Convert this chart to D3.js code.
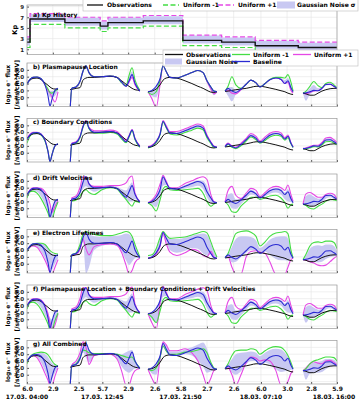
<!DOCTYPE html>
<html>
<head>
<meta charset="utf-8">
<script src="https://cdn.jsdelivr.net/npm/d3@7"></script>
<style>
  body { margin: 0; background: #fff; }
  svg { font-family: 'DejaVu Sans', sans-serif; font-weight: bold; }
</style>
</head>
<body>
<div id="chart"></div>
<script>
// !--------------------------------------------------------------data content below

// x axis: hours after 17.03. 04:00
const lshellTicks = [0, 3, 6, 8.75, 11.75, 14.83, 17.83, 20.9, 24, 27.17, 30.2, 33, 36];
const lshellLabels = ['6.0', '2.9', '2.5', '5.7', '2.9', '2.6', '5.8', '2.7', '2.6', '6.0', '3.0', '2.8', '5.9'];
const dateTicks = [0, 8.75, 17.83, 27.17, 36];
const dateLabels = ['17.03. 04:00', '17.03. 12:45', '17.03. 21:50', '18.03. 07:10', '18.03. 16:00'];

// a) Kp history (step values)
const kpTime = [0, 0.35, 4.4, 8.5, 9.4, 13.5, 18.1, 22.6, 26.5, 31.5, 36];
const kpObs = [2.33, 6.67, 6.0, 5.33, 6.0, 6.33, 2.67, 2.33, 1.67, 1.33, 1.33];
const kpMinus = [1.33, 5.67, 5.0, 4.33, 5.0, 5.33, 1.67, 1.33, 0.67, 0.33, 0.33];
const kpPlus = [3.33, 7.67, 7.0, 6.33, 7.0, 7.33, 3.67, 3.33, 2.67, 2.33, 2.33];
const kpNoiseLo = [1.7, 6.1, 5.4, 4.7, 5.4, 5.7, 2.1, 1.7, 1.1, 0.7, 0.7];
const kpNoiseHi = [3.2, 7.6, 6.9, 6.2, 6.9, 7.2, 3.6, 3.2, 2.6, 2.2, 2.2];

// satellite passes (hours)
const passHours = [
  [0, 0.35, 0.7, 1.16, 1.63, 2.09, 2.44, 2.67, 2.9, 3.25, 3.6],
  [5.0, 5.2, 5.7, 6.15, 6.5, 6.85, 7.2, 7.8, 8.7, 9.65, 10.45, 11.0, 11.5, 11.85, 12.2, 12.55, 13.1],
  [14.05, 14.5, 15.0, 15.45, 15.8, 16.15, 16.6, 17.4, 18.35, 19.15, 19.85, 20.45, 20.9, 21.35, 21.7, 22.05],
  [23.0, 23.35, 23.8, 24.25, 24.85, 25.45, 26.0, 26.6, 27.05, 27.65, 28.2, 28.9, 29.5, 29.95, 30.3, 30.65, 30.9],
  [32.05, 32.4, 32.85, 33.3, 33.8, 34.25, 34.7, 35.2, 35.65, 36.0]
];

// log10 flux, same in every panel
const obsFlux = [
  [6.1, 6.5, 6.75, 6.8, 6.6, 6.1, 5.75, 5.5, 5.3, 5.2, 5.2],
  [5.1, 5.15, 5.3, 5.4, 6.5, 6.8, 6.9, 6.9, 7.0, 7.05, 6.9, 6.4, 5.9, 5.6, 5.3, 5.1, 5.0],
  [4.8, 4.9, 5.2, 5.8, 6.5, 6.8, 6.9, 6.8, 6.4, 6.0, 5.6, 5.3, 5.0, 4.75, 4.7, 4.8],
  [4.85, 4.9, 5.0, 5.1, 5.2, 5.3, 5.45, 5.6, 5.6, 5.5, 5.35, 5.15, 4.95, 4.8, 4.6, 4.45, 4.4],
  [4.6, 4.5, 4.3, 4.3, 4.6, 4.9, 5.1, 5.25, 5.3, 5.3]
];
const baseFlux = [
  [5.9, 6.6, 6.9, 6.95, 6.7, 5.8, 4.2, 2.7, 3.7, 5.0, 5.3],
  [2.0, 5.3, 5.5, 6.3, 7.8, 8.6, 7.6, 7.0, 7.0, 7.1, 6.9, 6.2, 5.6, 6.4, 7.3, 6.0, 4.9],
  [4.8, 5.0, 5.6, 6.7, 8.6, 7.8, 6.9, 6.8, 7.2, 7.6, 7.9, 7.6, 6.4, 5.5, 4.9, 4.8],
  [4.9, 5.3, 4.9, 4.7, 5.2, 5.9, 6.5, 6.1, 5.5, 6.0, 6.55, 6.8, 6.6, 6.0, 6.4, 5.4, 4.8],
  [4.6, 4.65, 4.8, 5.0, 4.95, 5.3, 5.85, 5.9, 5.6, 5.3]
];

// b) plasmapause location
const ppMinus = [
  [5.9, 6.6, 6.9, 6.95, 6.7, 5.9, 5.2, 4.7, 4.6, 4.9, 5.2],
  [2.0, 5.3, 5.5, 6.3, 7.8, 8.6, 7.6, 7.0, 7.0, 7.1, 6.9, 6.1, 5.7, 7.2, 8.3, 6.5, 5.0],
  [4.8, 4.4, 4.8, 6.5, 8.6, 7.8, 6.9, 6.8, 7.2, 7.6, 7.9, 7.6, 6.4, 5.5, 4.9, 4.8],
  [4.9, 5.6, 7.0, 5.8, 5.3, 5.9, 6.5, 6.1, 5.5, 6.0, 6.6, 6.9, 6.9, 6.8, 7.3, 6.2, 4.9],
  [4.6, 4.9, 5.6, 6.3, 5.7, 5.4, 6.0, 6.2, 5.8, 5.4]
];
const ppPlus = [
  [5.9, 6.6, 6.9, 6.95, 6.7, 5.8, 5.0, 4.6, 4.0, 3.3, 4.8],
  [2.0, 5.3, 5.5, 6.3, 7.8, 8.6, 7.6, 7.0, 7.0, 7.1, 6.9, 6.2, 5.6, 6.2, 6.9, 5.8, 4.9],
  [4.8, 3.8, 2.5, 5.8, 8.6, 7.8, 6.9, 6.8, 7.2, 7.6, 7.9, 7.6, 6.3, 5.2, 4.5, 4.8],
  [4.9, 5.0, 4.6, 4.5, 5.1, 5.9, 6.5, 6.1, 5.5, 6.0, 6.55, 6.8, 6.6, 6.0, 6.2, 5.0, 4.6],
  [4.6, 4.5, 4.7, 4.9, 5.0, 5.3, 5.9, 5.9, 5.6, 5.3]
];
const ppLo = [
  [5.9, 6.6, 6.9, 6.95, 6.7, 5.8, 4.5, 4.0, 4.0, 4.2, 5.0],
  [2.0, 5.3, 5.5, 6.3, 7.8, 8.5, 7.6, 7.0, 7.0, 7.0, 6.8, 6.0, 5.5, 6.0, 6.8, 5.7, 4.8],
  [4.8, 4.2, 4.0, 6.0, 8.5, 7.8, 6.9, 6.8, 7.2, 7.6, 7.9, 7.6, 6.3, 5.0, 4.3, 4.7],
  [4.9, 4.2, 3.4, 4.4, 5.0, 5.9, 6.5, 6.1, 5.5, 6.0, 6.5, 6.8, 6.5, 6.0, 6.0, 5.0, 4.6],
  [4.6, 3.5, 4.4, 4.8, 4.9, 5.2, 5.7, 5.8, 5.5, 5.2]
];
const ppHi = [
  [5.9, 6.6, 6.9, 6.95, 6.7, 5.9, 5.2, 4.9, 4.9, 5.0, 5.3],
  [2.0, 5.3, 5.5, 6.3, 7.8, 8.6, 7.6, 7.0, 7.0, 7.1, 6.9, 6.2, 5.8, 7.0, 7.8, 6.3, 5.0],
  [4.8, 5.0, 5.6, 6.7, 8.6, 7.8, 6.9, 6.8, 7.2, 7.6, 7.9, 7.6, 6.4, 5.5, 4.9, 4.8],
  [4.9, 5.4, 5.5, 5.0, 5.3, 5.9, 6.5, 6.1, 5.5, 6.0, 6.6, 6.9, 6.8, 6.5, 6.8, 5.8, 4.8],
  [4.6, 4.8, 5.3, 5.8, 5.3, 5.4, 6.0, 6.0, 5.7, 5.3]
];

// c) boundary conditions
const bcMinus = [
  [5.4, 6.4, 6.8, 6.9, 6.6, 5.7, 4.2, 2.7, 3.7, 5.0, 5.3],
  [2.0, 5.2, 5.4, 6.2, 7.7, 8.6, 7.5, 6.9, 6.85, 6.95, 6.75, 6.0, 5.45, 6.3, 7.2, 5.9, 4.8],
  [4.7, 4.9, 5.5, 6.6, 8.5, 7.7, 6.75, 6.6, 6.95, 7.3, 7.6, 7.35, 6.2, 5.35, 4.8, 4.75],
  [4.85, 5.2, 4.8, 4.6, 5.0, 5.7, 6.3, 5.9, 5.4, 5.8, 6.3, 6.55, 6.4, 5.85, 6.2, 5.3, 4.75],
  [4.55, 4.6, 4.7, 4.9, 4.85, 5.15, 5.6, 5.65, 5.4, 5.15]
];
const bcPlus = [
  [6.1, 6.7, 7.0, 7.0, 6.75, 5.9, 4.2, 2.7, 3.7, 5.0, 5.3],
  [2.0, 5.4, 5.6, 6.4, 7.9, 8.7, 7.7, 7.2, 7.2, 7.3, 7.1, 6.4, 5.8, 6.5, 7.4, 6.1, 5.0],
  [4.9, 5.1, 5.7, 6.8, 8.7, 8.0, 7.1, 7.1, 7.5, 7.9, 8.2, 7.9, 6.6, 5.6, 5.0, 4.85],
  [4.95, 5.4, 5.0, 4.8, 5.4, 6.1, 6.8, 6.4, 5.7, 6.3, 6.85, 7.1, 6.9, 6.2, 6.6, 5.5, 4.85],
  [4.65, 4.7, 4.9, 5.1, 5.1, 5.5, 6.15, 6.25, 5.9, 5.5]
];
const bcLo = [
  [5.5, 6.5, 6.85, 6.9, 6.65, 5.75, 4.2, 2.7, 3.7, 5.0, 5.3],
  [2.0, 5.25, 5.45, 6.25, 7.75, 8.6, 7.55, 6.95, 6.95, 7.0, 6.8, 6.1, 5.5, 6.35, 7.25, 5.95, 4.85],
  [4.75, 4.95, 5.55, 6.65, 8.55, 7.75, 6.8, 6.7, 7.05, 7.4, 7.7, 7.45, 6.3, 5.4, 4.85, 4.8],
  [4.9, 5.25, 4.85, 4.65, 5.1, 5.8, 6.4, 6.0, 5.45, 5.9, 6.4, 6.65, 6.5, 5.9, 6.3, 5.35, 4.8],
  [4.6, 4.6, 4.75, 4.95, 4.9, 5.2, 5.7, 5.75, 5.5, 5.2]
];
const bcHi = [
  [6.0, 6.7, 6.95, 7.0, 6.75, 5.85, 4.2, 2.7, 3.7, 5.0, 5.3],
  [2.0, 5.35, 5.55, 6.35, 7.85, 8.65, 7.65, 7.1, 7.1, 7.2, 7.0, 6.3, 5.7, 6.45, 7.35, 6.05, 4.95],
  [4.85, 5.05, 5.65, 6.75, 8.65, 7.9, 7.0, 7.0, 7.4, 7.8, 8.1, 7.8, 6.5, 5.55, 4.95, 4.85],
  [4.9, 5.35, 4.95, 4.75, 5.3, 6.0, 6.7, 6.3, 5.6, 6.2, 6.75, 7.0, 6.8, 6.1, 6.5, 5.45, 4.85],
  [4.6, 4.7, 4.85, 5.05, 5.05, 5.4, 6.0, 6.1, 5.8, 5.4]
];

// d) drift velocities
const dvMinus = [
  [5.5, 6.4, 6.5, 6.2, 5.4, 4.3, 3.3, 2.5, 2.5, 3.8, 4.9],
  [2.0, 5.0, 5.2, 5.8, 6.4, 6.7, 6.3, 6.0, 6.7, 7.0, 6.8, 6.0, 5.3, 4.7, 4.3, 5.0, 4.8],
  [4.8, 4.4, 3.6, 5.2, 6.8, 7.2, 6.7, 6.6, 6.7, 6.8, 6.9, 6.2, 5.0, 4.3, 4.6, 4.8],
  [4.9, 4.5, 3.5, 3.4, 4.3, 5.0, 5.6, 5.6, 5.3, 5.5, 5.8, 5.9, 5.5, 4.8, 4.0, 4.5, 4.6],
  [4.6, 4.4, 4.0, 3.9, 4.3, 4.6, 5.0, 5.3, 5.2, 5.1]
];
const dvPlus = [
  [6.0, 6.7, 7.0, 7.0, 6.9, 6.4, 5.6, 4.6, 3.4, 4.3, 5.1],
  [2.0, 5.5, 5.8, 7.0, 8.6, 8.6, 7.5, 7.2, 7.2, 7.3, 7.3, 7.4, 7.7, 8.4, 8.7, 6.2, 5.0],
  [4.8, 5.2, 6.0, 7.5, 8.8, 8.0, 7.0, 7.0, 7.6, 8.0, 8.4, 8.6, 8.2, 6.0, 5.0, 4.8],
  [4.9, 6.6, 7.2, 5.9, 5.4, 6.2, 6.9, 6.6, 5.7, 6.3, 6.9, 7.2, 7.0, 6.6, 7.4, 6.0, 5.0],
  [4.6, 6.1, 6.3, 6.0, 5.6, 5.6, 6.0, 6.2, 6.0, 5.4]
];
const dvLo = [
  [5.6, 6.45, 6.6, 6.4, 5.7, 4.6, 3.5, 2.5, 2.5, 4.0, 5.0],
  [2.0, 5.1, 5.3, 6.0, 6.8, 7.2, 6.8, 6.4, 6.8, 7.0, 6.85, 6.1, 5.4, 5.0, 5.0, 5.3, 4.85],
  [4.8, 4.6, 4.2, 5.6, 7.3, 7.4, 6.8, 6.7, 6.9, 7.1, 7.3, 6.8, 5.6, 4.8, 4.7, 4.8],
  [4.9, 4.8, 4.0, 3.9, 4.6, 5.4, 6.0, 5.8, 5.4, 5.7, 6.1, 6.3, 6.0, 5.3, 5.0, 4.9, 4.7],
  [4.6, 4.5, 4.3, 4.3, 4.6, 4.9, 5.4, 5.6, 5.4, 5.2]
];
const dvHi = [
  [5.95, 6.65, 6.95, 6.95, 6.8, 6.1, 5.2, 4.0, 3.8, 5.0, 5.3],
  [2.0, 5.4, 5.7, 6.6, 8.2, 8.6, 7.6, 7.1, 7.1, 7.2, 7.1, 6.8, 6.6, 7.2, 7.8, 6.1, 4.95],
  [4.8, 5.1, 5.8, 7.1, 8.7, 7.9, 6.95, 6.9, 7.4, 7.8, 8.1, 8.0, 7.2, 5.7, 4.95, 4.8],
  [4.9, 6.0, 6.2, 5.3, 5.3, 6.0, 6.7, 6.3, 5.6, 6.2, 6.7, 7.0, 6.8, 6.3, 6.8, 5.7, 4.9],
  [4.6, 5.8, 6.0, 5.7, 5.4, 5.5, 5.95, 6.0, 5.8, 5.35]
];

// e) electron lifetimes
const ltMinus = [
  [5.8, 6.5, 6.9, 7.0, 7.0, 6.8, 6.3, 5.9, 5.7, 5.5, 5.4],
  [2.0, 5.3, 5.6, 6.8, 8.3, 8.7, 8.5, 8.3, 8.1, 8.1, 8.3, 8.5, 8.7, 8.6, 8.0, 6.8, 5.0],
  [5.2, 5.3, 6.2, 7.8, 8.7, 8.2, 7.7, 7.8, 7.9, 8.2, 8.5, 8.7, 8.5, 7.2, 6.0, 5.0],
  [4.9, 5.5, 7.0, 8.4, 8.7, 8.8, 8.6, 8.0, 6.6, 7.2, 8.0, 8.5, 8.6, 8.7, 8.4, 6.0, 4.9],
  [4.6, 5.4, 6.6, 7.1, 7.2, 7.1, 7.3, 7.3, 7.1, 6.2]
];
const ltPlus = [
  [5.8, 6.4, 6.6, 6.4, 5.6, 4.5, 3.5, 2.7, 2.5, 3.5, 4.6],
  [2.0, 5.2, 5.4, 6.0, 7.6, 6.2, 5.3, 6.5, 6.8, 6.9, 6.7, 5.6, 3.8, 2.5, 3.0, 4.2, 4.8],
  [4.8, 4.9, 5.4, 6.5, 8.5, 7.0, 5.7, 5.2, 5.6, 6.1, 5.9, 5.2, 5.0, 5.8, 5.0, 4.8],
  [4.9, 5.0, 3.5, 2.5, 2.5, 5.0, 5.8, 5.9, 5.7, 5.5, 4.3, 2.5, 2.5, 2.5, 3.5, 4.6, 4.8],
  [4.6, 4.5, 4.3, 4.1, 3.8, 3.7, 3.8, 4.3, 4.8, 5.1]
];
const ltLo = [
  [5.8, 6.4, 6.6, 6.5, 5.8, 4.8, 3.8, 3.2, 3.2, 4.0, 4.8],
  [2.0, 5.25, 5.5, 6.1, 7.2, 2.6, 3.5, 6.0, 6.6, 6.8, 6.6, 5.8, 4.5, 3.8, 4.3, 4.8, 4.85],
  [4.8, 4.9, 5.5, 6.6, 8.0, 7.2, 6.0, 5.6, 5.9, 6.3, 6.2, 5.5, 5.2, 5.4, 4.9, 4.8],
  [4.9, 5.0, 4.2, 4.3, 5.0, 5.6, 6.0, 6.0, 5.6, 5.8, 5.3, 4.7, 4.5, 4.5, 4.4, 4.8, 4.8],
  [4.6, 4.5, 4.4, 4.3, 4.2, 4.3, 4.7, 5.0, 5.1, 5.2]
];
const ltHi = [
  [5.8, 6.5, 6.9, 7.0, 7.0, 6.8, 6.3, 5.8, 5.5, 5.4, 5.3],
  [2.0, 5.3, 5.6, 6.7, 8.2, 8.6, 8.3, 8.0, 7.9, 8.0, 8.1, 8.2, 8.4, 8.3, 7.8, 6.6, 5.0],
  [4.8, 5.2, 6.0, 7.6, 8.6, 8.1, 7.6, 7.6, 7.8, 8.1, 8.3, 8.4, 8.2, 7.0, 5.8, 4.9],
  [4.9, 5.4, 6.5, 7.6, 8.0, 8.0, 7.9, 7.4, 6.3, 6.8, 7.5, 7.9, 8.0, 8.0, 7.7, 5.8, 4.85],
  [4.6, 5.2, 6.2, 6.6, 6.7, 6.6, 6.8, 6.8, 6.6, 5.8]
];

// f) plasmapause + boundary + drift
const ppbcdvMinus = [
  [5.5, 6.4, 6.5, 6.2, 5.4, 4.3, 3.3, 2.5, 2.5, 3.8, 4.9],
  [2.0, 5.0, 5.2, 5.8, 6.4, 6.7, 6.3, 6.0, 6.7, 7.0, 6.8, 6.0, 5.3, 4.7, 4.3, 5.0, 4.8],
  [4.8, 4.3, 3.5, 5.2, 6.8, 7.2, 6.7, 6.6, 6.7, 6.8, 6.9, 6.2, 5.0, 4.3, 4.6, 4.8],
  [4.9, 4.5, 3.5, 3.4, 4.3, 5.0, 5.6, 5.6, 5.3, 5.5, 5.8, 5.9, 5.5, 4.8, 4.0, 4.5, 4.6],
  [4.6, 4.4, 4.0, 3.9, 4.3, 4.6, 5.0, 5.3, 5.2, 5.1]
];
const ppbcdvPlus = [
  [6.0, 6.7, 7.0, 7.0, 6.8, 6.0, 4.8, 3.5, 2.5, 3.2, 4.8],
  [2.0, 5.5, 5.8, 7.0, 8.6, 8.6, 7.5, 7.2, 7.2, 7.3, 7.3, 7.4, 7.7, 8.4, 8.7, 6.2, 5.0],
  [4.8, 3.5, 2.5, 6.4, 8.8, 8.0, 7.0, 7.0, 7.6, 8.0, 8.4, 8.6, 8.2, 6.0, 5.0, 4.8],
  [4.9, 6.6, 7.2, 5.9, 5.4, 6.2, 6.9, 6.6, 5.7, 6.3, 6.9, 7.2, 7.0, 6.6, 7.4, 6.0, 5.0],
  [4.6, 6.1, 6.3, 6.0, 5.6, 5.6, 6.0, 6.2, 6.0, 5.4]
];
const ppbcdvLo = [
  [5.6, 6.45, 6.6, 6.4, 5.7, 4.6, 3.5, 2.5, 2.5, 3.5, 4.9],
  [2.0, 5.1, 5.3, 6.0, 6.8, 7.2, 6.8, 6.4, 6.8, 7.0, 6.85, 6.1, 5.4, 5.0, 5.0, 5.3, 4.85],
  [4.8, 4.0, 3.5, 5.5, 7.3, 7.4, 6.8, 6.7, 6.9, 7.1, 7.3, 6.8, 5.6, 4.8, 4.7, 4.8],
  [4.9, 4.8, 4.0, 3.9, 4.6, 5.4, 6.0, 5.8, 5.4, 5.7, 6.1, 6.3, 6.0, 5.3, 5.0, 4.9, 4.7],
  [4.6, 3.5, 4.2, 4.3, 4.6, 4.9, 5.4, 5.6, 5.4, 5.2]
];
const ppbcdvHi = [
  [5.95, 6.65, 6.95, 6.95, 6.75, 5.9, 5.0, 4.2, 4.0, 4.8, 5.3],
  [2.0, 5.4, 5.7, 6.6, 8.2, 8.6, 7.6, 7.1, 7.1, 7.2, 7.1, 6.8, 6.6, 7.2, 7.8, 6.1, 4.95],
  [4.8, 5.0, 5.6, 7.0, 8.7, 7.9, 6.95, 6.9, 7.4, 7.8, 8.1, 8.0, 7.2, 5.7, 4.95, 4.8],
  [4.9, 6.0, 6.2, 5.3, 5.3, 6.0, 6.7, 6.3, 5.6, 6.2, 6.7, 7.0, 6.8, 6.3, 6.8, 5.7, 4.9],
  [4.6, 5.8, 6.0, 5.7, 5.4, 5.5, 5.95, 6.0, 5.8, 5.35]
];

// g) all combined
const allMinus = [
  [5.6, 6.6, 7.0, 7.2, 7.3, 7.2, 6.9, 6.5, 6.0, 5.5, 5.3],
  [2.0, 5.3, 5.6, 6.5, 7.6, 7.5, 7.2, 7.1, 7.1, 7.1, 7.0, 6.8, 6.6, 6.5, 6.6, 5.9, 5.0],
  [4.8, 4.6, 5.0, 6.5, 8.2, 7.5, 7.0, 7.0, 7.3, 7.4, 7.6, 7.8, 7.2, 5.8, 5.0, 4.8],
  [4.9, 5.6, 6.8, 7.5, 7.6, 7.6, 7.8, 7.6, 7.0, 7.5, 7.9, 8.1, 8.0, 7.5, 6.8, 5.8, 4.9],
  [4.6, 4.9, 5.6, 6.0, 6.2, 6.4, 6.6, 6.6, 6.5, 6.0]
];
const allPlus = [
  [5.9, 6.6, 6.8, 6.5, 5.5, 4.2, 3.2, 2.5, 2.5, 3.8, 5.0],
  [2.0, 5.4, 6.0, 7.2, 8.8, 8.0, 5.5, 6.8, 7.0, 7.0, 6.3, 4.5, 2.5, 2.5, 3.8, 4.6, 4.9],
  [4.8, 3.5, 2.5, 6.4, 8.8, 8.4, 7.5, 7.5, 7.8, 7.2, 6.0, 4.0, 2.5, 3.5, 4.6, 4.8],
  [4.9, 5.0, 4.0, 2.5, 4.0, 5.8, 6.6, 6.4, 6.0, 6.2, 6.0, 4.6, 2.5, 2.5, 3.0, 4.2, 4.6],
  [4.6, 5.0, 5.6, 5.9, 5.7, 5.6, 6.0, 6.1, 5.8, 5.4]
];
const allLo = [
  [5.8, 6.5, 6.8, 6.6, 5.8, 4.6, 3.6, 3.2, 3.4, 4.3, 5.0],
  [2.0, 5.2, 5.5, 6.2, 7.3, 6.5, 5.8, 6.7, 6.9, 6.9, 6.3, 5.2, 4.5, 4.3, 4.6, 4.9, 4.9],
  [4.8, 4.2, 4.0, 6.0, 8.0, 7.4, 6.9, 6.8, 7.0, 6.8, 6.0, 5.2, 4.3, 4.5, 4.7, 4.8],
  [4.9, 4.9, 4.3, 4.0, 4.5, 5.5, 6.0, 6.0, 5.6, 5.8, 5.5, 4.8, 4.4, 4.5, 4.6, 4.7, 4.8],
  [4.6, 3.3, 4.2, 4.3, 4.3, 4.4, 4.8, 5.2, 5.3, 5.2]
];
const allHi = [
  [5.9, 6.6, 6.95, 7.1, 7.2, 7.0, 6.6, 6.1, 5.7, 5.4, 5.3],
  [2.0, 5.4, 5.9, 7.0, 8.5, 8.4, 7.5, 7.1, 7.1, 7.2, 7.1, 7.0, 7.3, 7.5, 7.6, 6.2, 5.0],
  [4.8, 5.0, 5.6, 7.0, 8.7, 8.2, 7.4, 7.4, 7.7, 8.0, 8.4, 8.7, 7.8, 6.0, 5.0, 4.8],
  [4.9, 5.5, 6.3, 7.0, 7.2, 7.3, 7.4, 7.2, 6.7, 7.2, 7.6, 7.8, 7.7, 7.2, 6.6, 5.6, 4.9],
  [4.6, 5.0, 5.5, 5.8, 5.9, 6.0, 6.3, 6.3, 6.2, 5.6]
];

const panelTitles = [
  'b) Plasmapause Location',
  'c) Boundary Conditions',
  'd) Drift Velocities',
  'e) Electron Lifetimes',
  'f) Plasmapause Location + Boundary Conditions + Drift Velocities',
  'g) All Combined'
];

// !----------------------------------------------------------graph content below

const colors = {
  obs: '#111111',
  minus: '#44dd44',
  plus: '#e548e5',
  base: '#2a2ad2',
  noise: '#c8c8f2',
  grid: '#e4e4e4',
  frame: '#9a9a9a'
};

const panels = [
  { minus: ppMinus, plus: ppPlus, lo: ppLo, hi: ppHi },
  { minus: bcMinus, plus: bcPlus, lo: bcLo, hi: bcHi },
  { minus: dvMinus, plus: dvPlus, lo: dvLo, hi: dvHi },
  { minus: ltMinus, plus: ltPlus, lo: ltLo, hi: ltHi },
  { minus: ppbcdvMinus, plus: ppbcdvPlus, lo: ppbcdvLo, hi: ppbcdvHi },
  { minus: allMinus, plus: allPlus, lo: allLo, hi: allHi }
].map((p, i) => ({ ...p, title: panelTitles[i] }));

const dims = { width: 359, height: 400, left: 27, right: 337 };

const svg = d3
  .select('#chart')
  .append('svg')
  .attr('width', dims.width)
  .attr('height', dims.height);

const defs = svg.append('defs');

const x = d3.scaleLinear().domain([0, 36]).range([dims.left, dims.right]);

const zip = (t, v) => t.map((tt, i) => [tt, v[i]]);

// grid + frame helper
const drawFrame = (g, y, top, h, yTicks, gridY) => {
  g.append('g')
    .selectAll('line')
    .data(lshellTicks)
    .join('line')
    .attr('x1', (d) => x(d))
    .attr('x2', (d) => x(d))
    .attr('y1', top)
    .attr('y2', top + h)
    .attr('stroke', colors.grid)
    .attr('stroke-width', 0.6);

  g.append('g')
    .selectAll('line')
    .data(gridY)
    .join('line')
    .attr('x1', dims.left)
    .attr('x2', dims.right)
    .attr('y1', (d) => y(d))
    .attr('y2', (d) => y(d))
    .attr('stroke', colors.grid)
    .attr('stroke-width', 0.6);
};

const drawAxes = (g, y, top, h, yTicks, showLabels) => {
  const yAxis = g
    .append('g')
    .attr('transform', `translate(${dims.left},0)`)
    .call(d3.axisLeft(y).tickValues(yTicks).tickSizeInner(-2).tickSizeOuter(0).tickPadding(3));
  yAxis.select('.domain').remove();
  yAxis.selectAll('line').attr('stroke', '#555');
  yAxis.selectAll('text').attr('font-size', 5.5).attr('font-family', 'DejaVu Sans').attr('font-weight', 'bold').attr('fill', '#222');

  const xAxis = g
    .append('g')
    .attr('transform', `translate(0,${top + h})`)
    .call(
      d3.axisBottom(x)
        .tickValues(lshellTicks)
        .tickSizeInner(-2)
        .tickSizeOuter(0)
        .tickPadding(3)
        .tickFormat((d, i) => (showLabels ? lshellLabels[i] : ''))
    );
  xAxis.select('.domain').remove();
  xAxis.selectAll('line').attr('stroke', '#555');
  xAxis.selectAll('text').attr('font-size', 6).attr('font-family', 'DejaVu Sans').attr('font-weight', 'bold').attr('fill', '#111');

  g.append('rect')
    .attr('x', dims.left)
    .attr('y', top)
    .attr('width', dims.right - dims.left)
    .attr('height', h)
    .attr('fill', 'none')
    .attr('stroke', colors.frame)
    .attr('stroke-width', 0.7);
};

// ---------------- a) Kp history
const kpTop = 5;
const kpH = 49.6;
const yKp = d3.scaleLinear().domain([0, 9.3]).range([kpTop + kpH, kpTop]);
const gA = svg.append('g');
drawFrame(gA, yKp, kpTop, kpH, [1, 3, 5, 7, 9], [1, 3, 5, 7, 9]);

defs.append('clipPath').attr('id', 'clip-kp')
  .append('rect').attr('x', dims.left).attr('y', kpTop).attr('width', dims.right - dims.left).attr('height', kpH);
const kpPlot = gA.append('g').attr('clip-path', 'url(#clip-kp)');

const kpBand = d3.area()
  .curve(d3.curveStepAfter)
  .x((d) => x(d[0]))
  .y0((d) => yKp(d[1]))
  .y1((d) => yKp(d[2]));
const kpLine = d3.line().curve(d3.curveStepAfter).x((d) => x(d[0])).y((d) => yKp(d[1]));

kpPlot.append('path')
  .attr('d', kpBand(kpTime.map((t, i) => [t, kpNoiseLo[i], kpNoiseHi[i]])))
  .attr('fill', colors.noise);
kpPlot.append('path')
  .attr('d', kpLine(zip(kpTime, kpMinus)))
  .attr('fill', 'none').attr('stroke', colors.minus).attr('stroke-width', 1.2).attr('stroke-dasharray', '5,2.5');
kpPlot.append('path')
  .attr('d', kpLine(zip(kpTime, kpPlus)))
  .attr('fill', 'none').attr('stroke', colors.plus).attr('stroke-width', 1.2).attr('stroke-dasharray', '5,2.5');
kpPlot.append('path')
  .attr('d', kpLine(zip(kpTime, kpObs)))
  .attr('fill', 'none').attr('stroke', colors.obs).attr('stroke-width', 1.4);

drawAxes(gA, yKp, kpTop, kpH, [1, 3, 5, 7, 9], false);

gA.append('text').attr('x', 33).attr('y', 16.5).attr('font-size', 6).text('a) Kp History');
gA.append('text')
  .attr('transform', `translate(17,${kpTop + kpH / 2}) rotate(-90)`)
  .attr('text-anchor', 'middle')
  .attr('font-size', 6.5)
  .text('Kp');

// ---------------- b)-g) flux panels
const panelTop0 = 63;
const panelStep = 55.5;
const panelH = 43.5;

const fluxLine = (y) => d3.line().curve(d3.curveMonotoneX).x((d) => x(d[0])).y((d) => y(d[1]));
const fluxArea = (y) => d3.area().curve(d3.curveMonotoneX).x((d) => x(d[0])).y0((d) => y(d[1])).y1((d) => y(d[2]));

panels.forEach((p, k) => {
  const top = panelTop0 + k * panelStep;
  const y = d3.scaleLinear().domain([2.65, 9.0]).range([top + panelH, top]);
  const g = svg.append('g');
  drawFrame(g, y, top, panelH, [4, 5, 6, 7, 8], [3, 4, 5, 6, 7, 8]);

  defs.append('clipPath').attr('id', `clip-${k}`)
    .append('rect').attr('x', dims.left).attr('y', top).attr('width', dims.right - dims.left).attr('height', panelH);
  const plot = g.append('g').attr('clip-path', `url(#clip-${k})`);
  const line = fluxLine(y);
  const area = fluxArea(y);

  passHours.forEach((t, i) => {
    plot.append('path')
      .attr('d', area(t.map((tt, j) => [tt, p.lo[i][j], p.hi[i][j]])))
      .attr('fill', colors.noise);
  });
  passHours.forEach((t, i) => {
    plot.append('path').attr('d', line(zip(t, p.plus[i])))
      .attr('fill', 'none').attr('stroke', colors.plus).attr('stroke-width', 1.1);
    plot.append('path').attr('d', line(zip(t, p.minus[i])))
      .attr('fill', 'none').attr('stroke', colors.minus).attr('stroke-width', 1.1);
    plot.append('path').attr('d', line(zip(t, obsFlux[i])))
      .attr('fill', 'none').attr('stroke', colors.obs).attr('stroke-width', 1);
    plot.append('path').attr('d', line(zip(t, baseFlux[i])))
      .attr('fill', 'none').attr('stroke', colors.base).attr('stroke-width', 1.1);
  });

  drawAxes(g, y, top, panelH, [4, 5, 6, 7, 8], k === panels.length - 1);

  g.append('text').attr('x', 33).attr('y', top + 5.8).attr('font-size', 6).text(p.title);

  const yl = g.append('g').attr('transform', `translate(0,${top + panelH / 2}) rotate(-90)`);
  yl.append('text').attr('x', 0).attr('y', 9.5).attr('text-anchor', 'middle').attr('font-size', 6).text('log\u2081\u2080 e\u207B flux');
  yl.append('text').attr('x', 0).attr('y', 18.5).attr('text-anchor', 'middle').attr('font-size', 6).text('[/sr/s/cm\u00B2/keV]');
});

// date labels under the bottom axis
svg.append('g')
  .selectAll('text')
  .data(dateTicks)
  .join('text')
  .attr('x', (d, i) => (i === dateTicks.length - 1 ? x(d) - 3 : x(d)))
  .attr('y', 398.5)
  .attr('text-anchor', 'middle')
  .attr('font-size', 6)
  .text((d, i) => dateLabels[i]);

// ---------------- legends
const legendTop = svg.append('g');
legendTop.append('rect').attr('x', 83).attr('y', -1).attr('width', 275).attr('height', 12)
  .attr('fill', '#fff').attr('stroke', '#bbb').attr('stroke-width', 0.6);
const topItems = [
  { x: 87, kind: 'line', color: colors.obs, dash: null, label: 'Observations' },
  { x: 163, kind: 'line', color: colors.minus, dash: '5,2.5', label: 'Uniform -1' },
  { x: 218, kind: 'line', color: colors.plus, dash: '5,2.5', label: 'Uniform +1' },
  { x: 277, kind: 'box', color: colors.noise, dash: null, label: 'Gaussian Noise \u03C3' }
];
topItems.forEach((it) => {
  if (it.kind === 'line') {
    legendTop.append('line').attr('x1', it.x).attr('x2', it.x + 16).attr('y1', 5).attr('y2', 5)
      .attr('stroke', it.color).attr('stroke-width', 1.3).attr('stroke-dasharray', it.dash);
  } else {
    legendTop.append('rect').attr('x', it.x).attr('y', 1.5).attr('width', 18).attr('height', 7).attr('fill', it.color);
  }
  legendTop.append('text').attr('x', it.x + 20).attr('y', 7.3).attr('font-size', 6).text(it.label);
});

const legendB = svg.append('g');
legendB.append('rect').attr('x', 163).attr('y', 50).attr('width', 195).attr('height', 16)
  .attr('fill', '#fff').attr('stroke', '#bbb').attr('stroke-width', 0.6);
const bItems = [
  { x: 165, y: 54.5, kind: 'line', color: colors.obs, label: 'Observations' },
  { x: 232, y: 54.5, kind: 'line', color: colors.minus, label: 'Uniform -1' },
  { x: 293, y: 54.5, kind: 'line', color: colors.plus, label: 'Uniform +1' },
  { x: 165, y: 61.5, kind: 'box', color: colors.noise, label: 'Gaussian Noise' },
  { x: 232, y: 61.5, kind: 'line', color: colors.base, label: 'Baseline' }
];
bItems.forEach((it) => {
  if (it.kind === 'line') {
    legendB.append('line').attr('x1', it.x).attr('x2', it.x + 18).attr('y1', it.y).attr('y2', it.y)
      .attr('stroke', it.color).attr('stroke-width', 1.3);
  } else {
    legendB.append('rect').attr('x', it.x).attr('y', it.y - 3).attr('width', 17).attr('height', 6).attr('fill', it.color);
  }
  legendB.append('text').attr('x', it.x + 21).attr('y', it.y + 2.2).attr('font-size', 6).text(it.label);
});
</script>
</body>
</html>
